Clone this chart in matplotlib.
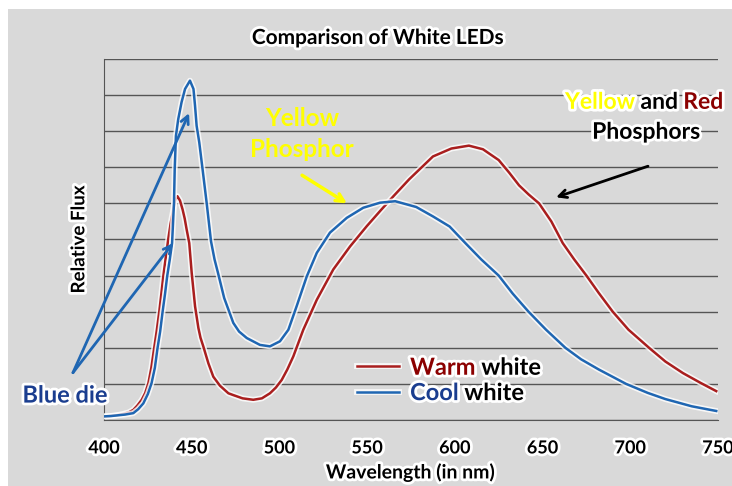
import matplotlib
matplotlib.use("Agg")
import matplotlib.pyplot as plt
import matplotlib.patheffects as pe
from matplotlib.patches import Rectangle

plt.rcParams['font.family'] = ['Lato', 'DejaVu Sans']
plt.rcParams['font.weight'] = 'bold'

# wavelength (nm) and relative flux for the two LEDs
warm_wl = [400, 403.4, 407, 411, 414, 416.7, 419, 421.5, 423.5, 425.3, 427, 428.6, 430, 431.5,
           432.7, 433.8, 435.2, 436.6, 438, 439.5, 440.5, 441.8, 443.3, 444.8, 446, 447.1, 448.6,
           450, 451.9, 453.8, 455, 456.6, 459.5, 462.3, 466.1, 470.9, 473.7, 479, 485.1,
           490, 494.6, 498, 501.3, 504.5, 507.9, 513.6, 521.3, 530.7, 540.3, 549.8, 557.4, 565,
           574, 587.5, 598, 608, 616, 625, 631, 636.6, 642, 648, 655, 661.5, 668, 675, 682, 690,
           699, 710.7, 720, 730, 740, 749]
warm_flux = [0.1, 0.11, 0.13, 0.17, 0.21, 0.28, 0.4, 0.56, 0.75, 1.02, 1.45, 1.99, 2.45, 3.0,
             3.5, 3.98, 4.5, 5.0, 5.45, 5.83, 6.08, 6.2, 6.08, 5.83, 5.58, 5.28, 4.9,
             4.07, 3.15, 2.55, 2.28, 2.04, 1.57, 1.2, 0.95, 0.74, 0.69, 0.6, 0.56,
             0.6, 0.74, 0.9, 1.11, 1.4, 1.76, 2.5, 3.33, 4.17, 4.81, 5.37, 5.79, 6.2,
             6.67, 7.3, 7.52, 7.6, 7.5, 7.2, 6.85, 6.5, 6.25, 6.0, 5.5, 4.9, 4.45, 4.0, 3.52, 3.0,
             2.5, 2.0, 1.62, 1.3, 1.03, 0.8]

cool_wl = [400, 404, 408, 412, 416.7, 419.5, 422.4, 425, 427.1, 429, 430.5, 432, 433.4, 434.8,
           436, 437.5, 438.8, 439.9, 440.3, 441, 442.3, 444.2, 446.2, 449, 451, 451.9, 452.8,
           454.3, 456.2, 458.5, 461, 463, 465, 468.5, 473.7, 477, 481.4, 488.9, 494.6, 500.3,
           505.1, 509.8, 515.6, 521.3, 528.8, 538.4, 547.8, 557.4, 566, 578, 587.5, 597, 606,
           615, 625, 633, 642, 652, 663, 672, 682, 697.6, 710, 720, 735, 749]
cool_flux = [0.1, 0.11, 0.13, 0.15, 0.19, 0.3, 0.46, 0.72, 1.02, 1.45, 1.99, 2.45, 3.0, 3.5,
             3.98, 4.45, 4.9, 6.02, 6.94, 7.87, 8.33, 8.8, 9.17, 9.4, 9.17, 8.7, 8.15,
             7.69, 6.94, 6.02, 4.95, 4.45, 4.07, 3.38, 2.69, 2.45, 2.27, 2.08, 2.04, 2.18,
             2.5, 3.15, 3.98, 4.63, 5.19, 5.6, 5.88, 6.02, 6.06, 5.9, 5.64, 5.36, 4.9,
             4.45, 4.0, 3.5, 3.0, 2.5, 2.0, 1.68, 1.4, 1.0, 0.75, 0.58, 0.38, 0.25]

x_ticks = [400, 450, 500, 550, 600, 650, 700, 750]

red = '#A91E1E'
dark_red = '#8B0000'
blue = '#1F66B2'
dark_blue = '#1A3D8F'
glow = [pe.withStroke(linewidth=4, foreground='white')]
line_glow = [pe.Stroke(linewidth=4.2, foreground='white', alpha=0.8), pe.Normal()]

fig = plt.figure(figsize=(7.32, 4.86), dpi=100, facecolor='white')
fig.patches.append(Rectangle((8 / 732, 0), 1, 477 / 486, transform=fig.transFigure,
                             facecolor='#D9D9D9', edgecolor='none', zorder=-5))
ax = fig.add_axes([104 / 732, 66 / 486, 614 / 732, 361 / 486])
ax.set_facecolor('none')

ax.plot(warm_wl, warm_flux, color=red, lw=1.8, label='Warm', path_effects=line_glow, zorder=3)
ax.plot(cool_wl, cool_flux, color=blue, lw=1.8, label='Cool', path_effects=line_glow, zorder=3)

ax.set_xlim(400, 750)
ax.set_ylim(0, 10)
ax.set_xticks(x_ticks)
ax.set_yticks(range(11))
ax.set_yticklabels([])
ax.tick_params(axis='x', length=0, pad=14)
ax.tick_params(axis='y', length=0, pad=0)
for lab in ax.get_xticklabels():
    lab.set_fontsize(13)
    lab.set_fontweight('bold')
    lab.set_path_effects(glow)
ax.grid(axis='y', color='#555555', lw=1)
for s in ['top', 'right']:
    ax.spines[s].set_visible(False)
for s in ['left', 'bottom']:
    ax.spines[s].set_color('#555555')

fig.text(378 / 732, 1 - 38 / 486, 'Comparison of White LEDs', ha='center', va='center',
         fontsize=15, fontweight='bold', path_effects=glow)
ax.set_xlabel('Wavelength (in nm)', fontsize=14, fontweight='bold', labelpad=5, path_effects=glow)
ax.set_ylabel('Relative Flux', fontsize=13.5, fontweight='bold', labelpad=12, path_effects=glow)

# annotations
ax.text(377.8, 0.69, 'Blue die', color=dark_blue, fontsize=17, ha='center', va='center',
        clip_on=False, path_effects=glow)
arrow_blue = dict(arrowstyle='->', color=blue, lw=2, mutation_scale=14, shrinkA=0, shrinkB=0)
ax.annotate('', xy=(448.5, 8.5), xytext=(382.3, 1.31), arrowprops=arrow_blue, annotation_clip=False)
ax.annotate('', xy=(439.3, 4.9), xytext=(382.3, 1.31), arrowprops=arrow_blue, annotation_clip=False)

ax.text(512.9, 8.36, 'Yellow', color='#FFFF00', fontsize=17.5, ha='center', va='center')
ax.text(512.9, 7.5, 'Phosphor', color='#FFFF00', fontsize=17.5, ha='center', va='center')
ax.annotate('', xy=(538.5, 6.0), xytext=(512.9, 6.78),
            arrowprops=dict(arrowstyle='->', color='#FFFF00', lw=2.5, mutation_scale=14,
                            shrinkA=0, shrinkB=0))

t1 = ax.text(662.8, 8.8, 'Yellow', color='#FFFF00', fontsize=16.5, ha='left', va='center',
             clip_on=False, path_effects=glow)
t2 = ax.annotate(' and ', xy=(1, 0), xycoords=t1, va='bottom', ha='left', color='black',
                 fontsize=16.5, path_effects=glow, annotation_clip=False)
ax.annotate('Red', xy=(1, 0), xycoords=t2, va='bottom', ha='left', color=dark_red,
            fontsize=16.5, path_effects=glow, annotation_clip=False)
ax.text(709, 7.97, 'Phosphors', color='black', fontsize=16.5, ha='center', va='center',
        clip_on=False, path_effects=glow)
ax.annotate('', xy=(657.7, 6.17), xytext=(710.1, 7.03),
            arrowprops=dict(arrowstyle='->', color='black', lw=2, mutation_scale=14,
                            shrinkA=0, shrinkB=0))

leg = ax.legend(loc='center left', bbox_to_anchor=(544.2, 1.11), bbox_transform=ax.transData,
                frameon=False, fontsize=17, handlelength=1.8, handletextpad=0.45,
                borderpad=0, borderaxespad=0, labelspacing=0.1)
leg.set_zorder(5)
leg_colors = [dark_red, dark_blue]
for txt, c in zip(leg.get_texts(), leg_colors):
    txt.set_color(c)
    txt.set_path_effects(glow)
    ax.annotate(' white', xy=(1, 0), xycoords=txt, va='bottom', ha='left', color='black',
                fontsize=17, path_effects=glow, annotation_clip=False, zorder=10)

fig.savefig('out.png', dpi=100, facecolor=fig.get_facecolor())
